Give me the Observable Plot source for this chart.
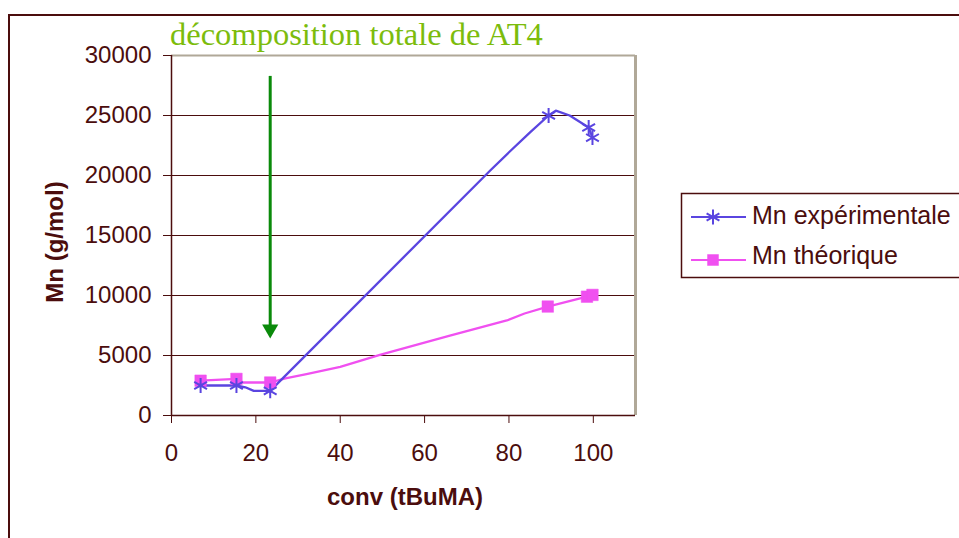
<!DOCTYPE html>
<html>
<head>
<meta charset="utf-8">
<script src="https://cdn.jsdelivr.net/npm/d3@7"></script>
<script src="https://cdn.jsdelivr.net/npm/@observablehq/plot@0.6"></script>
<style>
  html, body { margin: 0; padding: 0; background: #fff; }
  #wrap { position: relative; width: 959px; height: 538px; overflow: hidden; background: #fff; }
  #wrap > svg { position: absolute; left: 0; top: 0; }
</style>
</head>
<body>
<div id="wrap"></div>
<script>
// ---- data ----
const titleText = "décomposition totale de AT4";
const xLabel = "conv (tBuMA)";
const yLabel = "Mn (g/mol)";
const seriesNames = ["Mn expérimentale", "Mn théorique"];

// marker points
const expConv = [6.9, 15.4, 23.4, 89.4, 98.9, 99.8];
const expMn   = [2500, 2500, 2050, 25000, 24000, 23150];

const theoConv = [6.9, 15.4, 23.4, 89.2, 98.5, 99.8];
const theoMn   = [2900, 3050, 2750, 9080, 9900, 10050];

// smoothed line paths
const expLineConv = [6.9, 15.4, 17.5, 19.5, 23.4, 75.5, 80.2, 85.0, 89.4, 91.1, 94.4, 98.9, 99.8];
const expLineMn   = [2500, 2500, 2350, 2050, 2050, 20400, 22000, 23600, 25000, 25400, 25000, 24000, 23150];

const theoLineConv = [6.9, 15.4, 17.0, 23.4, 27.0, 32.0, 40.0, 49.4, 66.0, 79.5, 83.7, 89.2, 98.5, 99.8];
const theoLineMn   = [2900, 3050, 2750, 2750, 3100, 3450, 4050, 5050, 6650, 7920, 8500, 9080, 9900, 10050];

const xTicks = [0, 20, 40, 60, 80, 100];
const yTicks = [0, 5000, 10000, 15000, 20000, 25000, 30000];

// annotation arrow (data units)
const arrowConv = [23.4];
const arrowTop = [28300];
const arrowHeadMn = [7200];

// ---- styles ----
const maroon = "#4b0d0d";
const blue = "#5a45e0";
const magenta = "#f050f0";
const frameGrey = "#b0a898";
const arrowGreen = "#0a8a0a";
const titleGreen = "#7cbc0c";

const exp = expConv.map((x, i) => ({x, y: expMn[i]}));
const theo = theoConv.map((x, i) => ({x, y: theoMn[i]}));
const expLine = expLineConv.map((x, i) => ({x, y: expLineMn[i]}));
const theoLine = theoLineConv.map((x, i) => ({x, y: theoLineMn[i]}));
const arrow = arrowConv.map((x, i) => ({x, y1: arrowTop[i], y2: arrowHeadMn[i]}));

const chart = Plot.plot({
  width: 959,
  height: 538,
  marginLeft: 171,
  marginRight: 324,
  marginTop: 55,
  marginBottom: 123,
  x: {domain: [0, 110]},
  y: {domain: [0, 30000]},
  style: {fontFamily: "'Liberation Sans', Arial, sans-serif", fontSize: "24px", color: maroon, background: "transparent", overflow: "visible"},
  marks: [
    Plot.gridY(yTicks.filter(d => d > 0 && d < 30000), {stroke: maroon, strokeOpacity: 1, strokeWidth: 1}),
    Plot.ruleY([30000], {stroke: frameGrey, strokeWidth: 2}),
    Plot.ruleX([110], {stroke: frameGrey, strokeWidth: 3}),
    Plot.axisY({ticks: yTicks, tickSize: 8, tickPadding: 12, tickFormat: d3.format("d"), label: null, stroke: maroon, fill: maroon, fontSize: 24}),
    Plot.axisX({ticks: xTicks, tickSize: 8, tickPadding: 20, tickFormat: d3.format("d"), label: null, stroke: maroon, fill: maroon, fontSize: 24}),
    Plot.ruleX([0], {stroke: maroon, strokeWidth: 1.5}),
    Plot.ruleY([0], {stroke: maroon, strokeWidth: 1.5}),
    Plot.line(theoLine, {x: "x", y: "y", stroke: magenta, strokeWidth: 2.3, strokeLinejoin: "round"}),
    Plot.line(expLine, {x: "x", y: "y", stroke: blue, strokeWidth: 2.3, strokeLinejoin: "round"}),
    Plot.dot(theo, {x: "x", y: "y", symbol: "square", r: 6.5, fill: magenta, stroke: magenta, strokeWidth: 0.5}),
    Plot.dot(exp, {x: "x", y: "y", symbol: "asterisk", r: 7, stroke: blue, strokeWidth: 2, fill: "none"}),
    Plot.link(arrow, {x1: "x", x2: "x", y1: "y1", y2: "y2", stroke: arrowGreen, strokeWidth: 3}),
    Plot.dot(arrow, {x: "x", y: "y2", symbol: "triangle", rotate: 180, r: 6, fill: arrowGreen, stroke: "none"})
  ]
});

const wrap = document.getElementById("wrap");
wrap.appendChild(chart);

// ---- overlay: border, title, axis titles, legend ----
const ns = "http://www.w3.org/2000/svg";
const ov = d3.select(wrap).append("svg")
  .attr("xmlns", ns)
  .attr("width", 959).attr("height", 538)
  .style("font-family", "'Liberation Sans', Arial, sans-serif");

ov.append("rect").attr("x", 9).attr("y", 15).attr("width", 1000).attr("height", 600)
  .attr("fill", "none").attr("stroke", maroon).attr("stroke-width", 2);

ov.append("text").attr("x", 170).attr("y", 45)
  .attr("font-family", "'Liberation Serif', 'Times New Roman', serif")
  .attr("font-size", 32.5).attr("fill", titleGreen).text(titleText);

ov.append("text").attr("transform", "translate(63,242) rotate(-90)")
  .attr("text-anchor", "middle").attr("font-size", 24).attr("font-weight", "bold")
  .attr("fill", maroon).text(yLabel);

ov.append("text").attr("x", 405).attr("y", 505)
  .attr("text-anchor", "middle").attr("font-size", 24).attr("font-weight", "bold")
  .attr("fill", maroon).text(xLabel);

// legend
ov.append("rect").attr("x", 681.5).attr("y", 193.5).attr("width", 320).attr("height", 84)
  .attr("fill", "#fff").attr("stroke", maroon).attr("stroke-width", 1.5);

const legendItems = [
  {name: seriesNames[0], color: blue, sym: d3.symbolAsterisk, ly: 217, ty: 224, filled: false},
  {name: seriesNames[1], color: magenta, sym: d3.symbolSquare, ly: 260, ty: 264, filled: true}
];
legendItems.forEach(it => {
  ov.append("line").attr("x1", 691).attr("x2", 746).attr("y1", it.ly).attr("y2", it.ly)
    .attr("stroke", it.color).attr("stroke-width", 2);
  ov.append("path").attr("d", d3.symbol(it.sym, it.filled ? 120 : 154)())
    .attr("transform", `translate(713,${it.ly})`)
    .attr("fill", it.filled ? it.color : "none")
    .attr("stroke", it.color).attr("stroke-width", it.filled ? 0.5 : 2);
  ov.append("text").attr("x", 752).attr("y", it.ty).attr("font-size", 25)
    .attr("fill", maroon).text(it.name);
});
</script>
</body>
</html>
